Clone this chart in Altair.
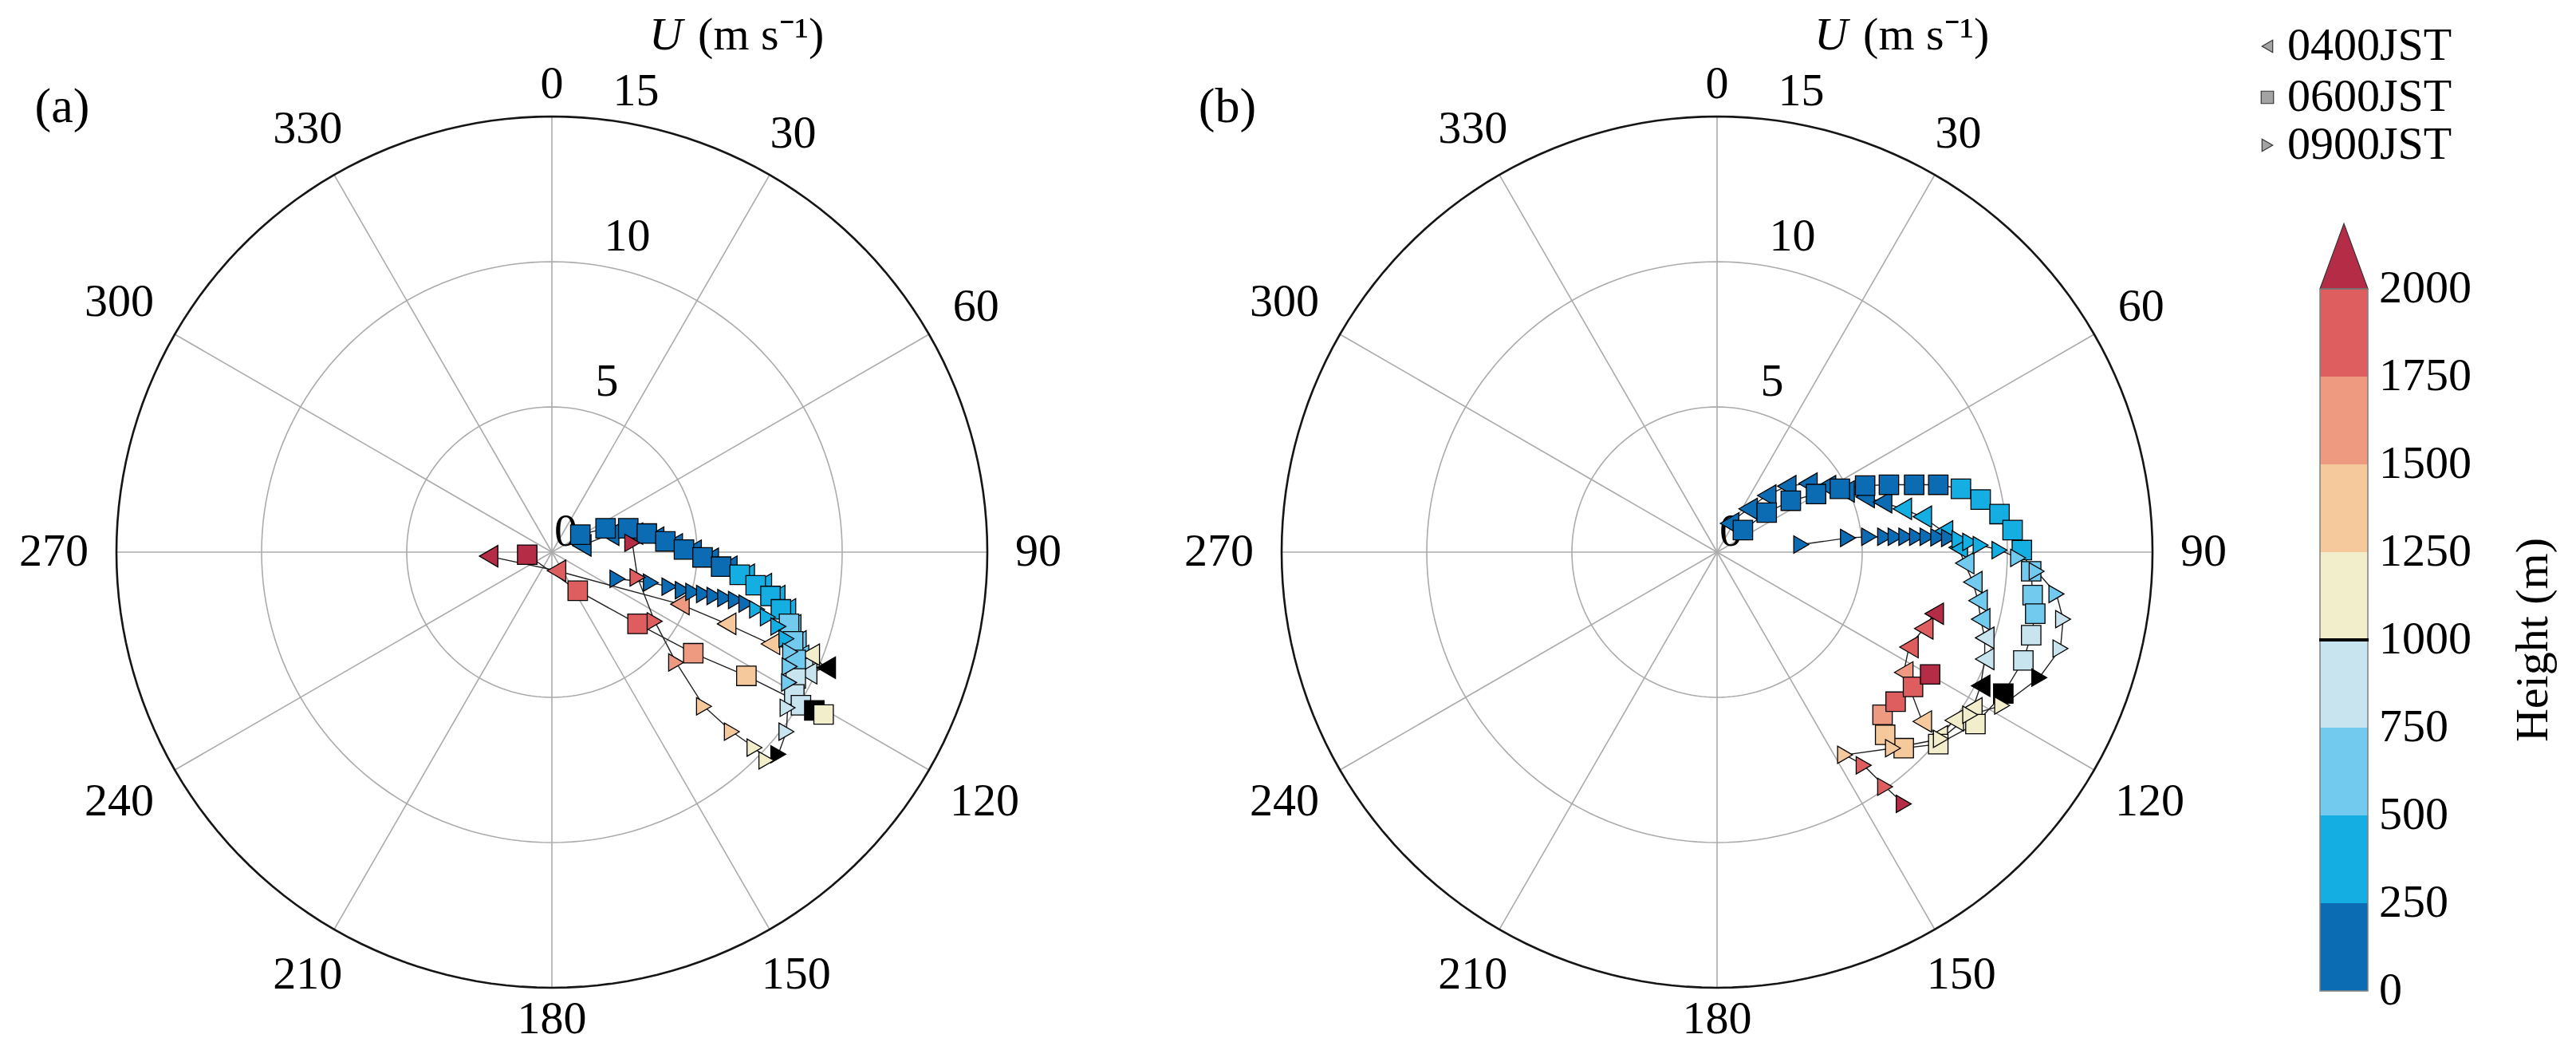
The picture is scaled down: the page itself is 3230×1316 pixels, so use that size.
import altair as alt
import numpy as np
import pandas as pd

SERIES = ["0400JST", "0600JST", "0900JST"]
SHAPES = ["triangle-left", "square", "triangle-right"]

# ---------------- data: hodograph points (u: east, v: north; m/s), height in m ----------------
# panel (a)
a0400_h = [25, 55, 85, 115, 145, 175, 205, 235, 290, 350, 410, 470, 540, 620, 700, 780, 880, 1000, 1100, 1350, 1450, 1600, 1850, 2100]
a0400_u = [1.03, 1.99, 2.81, 3.54, 4.18, 4.83, 5.42, 6.06, 6.66, 7.25, 7.71, 8.08, 8.26, 8.44, 8.53, 8.67, 8.81, 9.45, 8.90, 7.53, 6.02, 4.41, 0.16, -2.18]
a0400_v = [0.23, 0.60, 0.64, 0.50, 0.27, 0.05, -0.23, -0.50, -0.78, -1.10, -1.51, -1.97, -2.52, -3.07, -3.57, -3.89, -4.17, -3.98, -3.53, -3.16, -2.47, -1.79, -0.64, -0.14]

a0600_h = [25, 55, 85, 115, 145, 175, 205, 235, 290, 340, 400, 460, 540, 610, 680, 780, 850, 930, 1000, 1100, 1300, 1600, 1800, 1950, 2100]
a0600_u = [0.98, 1.85, 2.63, 3.27, 3.91, 4.55, 5.19, 5.83, 6.47, 7.02, 7.53, 7.89, 8.17, 8.31, 8.40, 8.40, 8.35, 8.58, 9.04, 9.36, 6.70, 4.87, 2.95, 0.89, -0.85]
a0600_v = [0.60, 0.82, 0.82, 0.64, 0.37, 0.09, -0.18, -0.50, -0.78, -1.14, -1.51, -1.97, -2.47, -3.07, -3.71, -4.35, -4.90, -5.27, -5.45, -5.59, -4.26, -3.48, -2.47, -1.33, -0.09]

a0900_h = [25, 50, 75, 100, 125, 150, 175, 200, 225, 245, 290, 350, 420, 480, 540, 620, 700, 800, 900, 1000, 1050, 1150, 1300, 1400, 1600, 1800, 1900, 2100]
a0900_u = [2.26, 3.41, 4.05, 4.51, 4.87, 5.24, 5.60, 5.97, 6.34, 6.70, 7.07, 7.44, 7.80, 8.08, 8.21, 8.19, 8.17, 8.12, 8.08, 7.80, 7.39, 6.98, 6.20, 5.24, 4.28, 3.54, 2.95, 2.77]
a0900_v = [-0.92, -1.05, -1.19, -1.31, -1.37, -1.44, -1.51, -1.58, -1.65, -1.77, -1.97, -2.24, -2.56, -2.98, -3.43, -3.94, -4.49, -5.36, -6.18, -6.96, -7.17, -6.73, -6.18, -5.31, -3.80, -2.38, -0.87, 0.32]

# panel (b)
b0400_h = [25, 50, 75, 100, 125, 150, 175, 200, 225, 275, 325, 400, 460, 530, 600, 670, 740, 800, 900, 1000, 1080, 1160, 1240, 1350, 1600, 1800, 1900, 2050]
b0400_u = [0.43, 1.07, 1.71, 2.40, 3.13, 3.77, 4.41, 5.10, 5.70, 6.38, 7.07, 7.80, 8.31, 8.53, 8.81, 8.99, 9.08, 9.22, 9.22, 9.08, 8.81, 8.17, 7.62, 7.07, 6.43, 6.61, 7.12, 7.48]
b0400_v = [0.99, 1.49, 1.95, 2.27, 2.36, 2.27, 2.09, 1.90, 1.72, 1.49, 1.22, 0.71, 0.16, -0.38, -1.03, -1.67, -2.31, -2.95, -3.68, -4.60, -5.38, -5.79, -6.34, -5.83, -4.14, -3.27, -2.63, -2.12]

b0600_h = [25, 50, 75, 100, 125, 150, 175, 200, 225, 275, 325, 375, 425, 475, 550, 620, 700, 800, 900, 1000, 1100, 1200, 1300, 1450, 1600, 1800, 1900, 2050]
b0600_u = [0.89, 1.71, 2.54, 3.41, 4.23, 5.10, 5.92, 6.79, 7.62, 8.40, 9.08, 9.73, 10.18, 10.50, 10.82, 10.87, 10.96, 10.82, 10.55, 9.86, 8.90, 7.62, 6.43, 5.79, 5.70, 6.15, 6.75, 7.34]
b0600_v = [0.76, 1.36, 1.77, 2.00, 2.18, 2.29, 2.32, 2.32, 2.32, 2.18, 1.81, 1.31, 0.76, 0.07, -0.66, -1.48, -2.12, -2.86, -3.73, -4.87, -5.92, -6.61, -6.75, -6.29, -5.60, -5.15, -4.64, -4.21]

b0900_h = [25, 50, 75, 100, 125, 150, 175, 200, 225, 245, 275, 325, 375, 450, 550, 650, 720, 800, 900, 1000, 1080, 1150, 1220, 1300, 1450, 1800, 1900, 2050]
b0900_u = [2.90, 4.51, 5.24, 5.79, 6.15, 6.52, 6.89, 7.25, 7.62, 7.99, 8.35, 8.72, 9.08, 9.73, 10.37, 11.01, 11.69, 11.92, 11.83, 11.10, 9.82, 8.72, 7.71, 6.06, 4.41, 5.05, 5.79, 6.43]
b0900_v = [0.26, 0.49, 0.53, 0.53, 0.53, 0.53, 0.53, 0.53, 0.51, 0.49, 0.44, 0.35, 0.24, 0.07, -0.20, -0.66, -1.44, -2.31, -3.32, -4.32, -5.28, -5.60, -6.43, -6.75, -6.98, -7.34, -8.08, -8.67]

# axes / colour bar definitions
ANGLE_TICKS = list(range(0, 360, 30))
RING_VALUES = [5, 10, 15]
RADIAL_LABELS = [0, 5, 10, 15]
BIN_EDGES = [250, 500, 750, 1000, 1250, 1500, 1750, 2000]
BIN_COLORS = ["#0b6cb4", "#15aee3", "#72cbee", "#c7e4ef", "#f2edca", "#f6c99d",
              "#ee9a80", "#de5e60", "#b42c45"]
CB_TICKS = [0, 250, 500, 750, 1000, 1250, 1500, 1750, 2000]


def frame(h, u, v, name):
    return pd.DataFrame({"h": h, "u": u, "v": v, "series": name})


df_a = pd.concat([frame(a0400_h, a0400_u, a0400_v, SERIES[0]),
                  frame(a0600_h, a0600_u, a0600_v, SERIES[1]),
                  frame(a0900_h, a0900_u, a0900_v, SERIES[2])], ignore_index=True)
df_b = pd.concat([frame(b0400_h, b0400_u, b0400_v, SERIES[0]),
                  frame(b0600_h, b0600_u, b0600_v, SERIES[1]),
                  frame(b0900_h, b0900_u, b0900_v, SERIES[2])], ignore_index=True)

# ---------------- layout ----------------
K = 36.4          # px per m/s
H = 1300          # view height
C0 = 684          # polar centre offset inside view (px)
WA, WB, WC = 1455, 1339, 400
SPACING = 6
FONT = "Liberation Serif"
FS = 58
RMAX = 15

ys = alt.Scale(domain=[-(H - C0) / K, C0 / K], nice=False, zero=False)


def xs(width):
    return alt.Scale(domain=[-C0 / K, (width - C0) / K], nice=False, zero=False)


rad = np.radians
ang_line = np.arange(0, 362, 2)
rings = pd.DataFrame([(r, a, r * np.sin(rad(a)), r * np.cos(rad(a)))
                      for r in RING_VALUES for a in ang_line], columns=["r", "a", "u", "v"])
spokes = pd.DataFrame({"a": ANGLE_TICKS})
spokes["u0"] = 0.0
spokes["v0"] = 0.0
spokes["u1"] = RMAX * np.sin(rad(spokes["a"]))
spokes["v1"] = RMAX * np.cos(rad(spokes["a"]))


def label_radius(a, text):
    # distance (px) of the label centre from the pole: ring + pad + half the text box
    s, c = abs(np.sin(rad(a))), abs(np.cos(rad(a)))
    w = len(text) * 0.5 * FS
    hh = 0.68 * FS
    return RMAX * K + 20 + 15 * s + 0.5 * w * s + 0.5 * hh * c


ang_text = [str(a) for a in ANGLE_TICKS]
ang_lab = pd.DataFrame({"t": ang_text,
                        "u": [label_radius(a, t) / K * np.sin(rad(a)) for a, t in zip(ANGLE_TICKS, ang_text)],
                        "v": [label_radius(a, t) / K * np.cos(rad(a)) for a, t in zip(ANGLE_TICKS, ang_text)]})
rad_lab = pd.DataFrame({"t": [str(r) for r in RADIAL_LABELS],
                        "u": [0.08 if r == 0 else 1.2 + 0.06 * r for r in RADIAL_LABELS],
                        "v": [-0.1 if r == 0 else r + 0.05 for r in RADIAL_LABELS]})

cscale = alt.Scale(type="threshold", domain=BIN_EDGES, range=BIN_COLORS)
shape_scale = alt.Scale(domain=SERIES, range=SHAPES)


def panel(df, tag, width):
    xsc = xs(width)

    def X(f):
        return alt.X(f + ":Q", scale=xsc, axis=None)

    def Y(f):
        return alt.Y(f + ":Q", scale=ys, axis=None)

    spoke = alt.Chart(spokes).mark_rule(color="#ababab", strokeWidth=1.6).encode(
        x=X("u0"), y=Y("v0"), x2=alt.X2("u1"), y2=alt.Y2("v1"))
    ring_in = alt.Chart(rings[rings.r < RMAX]).mark_line(color="#ababab", strokeWidth=1.6).encode(
        x=X("u"), y=Y("v"), detail="r:N", order="a:Q")
    ring_out = alt.Chart(rings[rings.r == RMAX]).mark_line(color="#151515", strokeWidth=2.6).encode(
        x=X("u"), y=Y("v"), order="a:Q")
    alab = alt.Chart(ang_lab).mark_text(font=FONT, fontSize=FS, color="black",
                                        align="center", baseline="middle").encode(
        x=X("u"), y=Y("v"), text="t:N")
    rlab = alt.Chart(rad_lab).mark_text(font=FONT, fontSize=FS, color="black",
                                        align="left", baseline="bottom").encode(
        x=X("u"), y=Y("v"), text="t:N")
    lines = alt.Chart(df).mark_line(color="#222222", strokeWidth=1.4).encode(
        x=X("u"), y=Y("v"), detail="series:N", order="h:Q")
    pts = alt.Chart(df).mark_point(filled=True, stroke="black", strokeWidth=1.3, opacity=1,
                                   fillOpacity=1, strokeOpacity=1).encode(
        x=X("u"), y=Y("v"),
        shape=alt.Shape("series:N", scale=shape_scale, legend=None),
        size=alt.Size("series:N", scale=alt.Scale(domain=SERIES, range=[720, 470, 720]), legend=None),
        fill=alt.condition(alt.datum.h == 1000, alt.value("black"),
                           alt.Fill("h:Q", scale=cscale, legend=None)),
    )
    tag_df = pd.DataFrame({"u": [-16.87], "v": [15.33], "t": [f"({tag})"]})
    tag_t = alt.Chart(tag_df).mark_text(font=FONT, fontSize=FS + 4, align="center",
                                        baseline="middle").encode(x=X("u"), y=Y("v"), text="t:N")
    u_df = pd.DataFrame({"u": [3.93], "v": [17.77], "t": ["U"]})
    u_t = alt.Chart(u_df).mark_text(font=FONT, fontSize=FS, fontStyle="italic", align="center",
                                    baseline="middle").encode(x=X("u"), y=Y("v"), text="t:N")
    unit_df = pd.DataFrame({"u": [5.03], "v": [17.77], "t": ["(m s\u207b\u00b9)"]})
    unit_t = alt.Chart(unit_df).mark_text(font=FONT, fontSize=FS, align="left",
                                          baseline="middle").encode(x=X("u"), y=Y("v"), text="t:N")
    return alt.layer(spoke, ring_in, ring_out, alab, rlab, lines, pts, tag_t, u_t, unit_t).properties(
        width=width, height=H)


# ---------------- colour bar + legend panel ----------------
CB_ZERO_PY = 1242     # page y of 0 m
CB_PX_PER_M = 0.44
PAGE_TOP = 8
cb_y = alt.Scale(domain=[(CB_ZERO_PY - PAGE_TOP - H) / CB_PX_PER_M,
                         (CB_ZERO_PY - PAGE_TOP) / CB_PX_PER_M], nice=False, zero=False)
cb_x = alt.Scale(domain=[0, WC], nice=False, zero=False)
BAR_L, BAR_R = 95, 155
EXT = 186


def py_to_m(py):
    return (CB_ZERO_PY - py) / CB_PX_PER_M


cb_df = pd.DataFrame({"lo": [0] + BIN_EDGES[:-1], "hi": BIN_EDGES})
cb_df["mid"] = (cb_df.lo + cb_df.hi) / 2
bar = alt.Chart(cb_df).mark_rect().encode(
    x=alt.value(BAR_L), x2=alt.value(BAR_R),
    y=alt.Y("lo:Q", scale=cb_y, axis=None), y2="hi:Q",
    fill=alt.Fill("mid:Q", scale=cscale, legend=None))
outline = alt.Chart(pd.DataFrame({"lo": [0], "hi": [BIN_EDGES[-1]]})).mark_rect(
    fill=None, stroke="#808080", strokeWidth=1.5).encode(
    x=alt.value(BAR_L), x2=alt.value(BAR_R),
    y=alt.Y("lo:Q", scale=cb_y, axis=None), y2="hi:Q")
ext_df = pd.DataFrame({"ex": [BAR_L, (BAR_L + BAR_R) / 2, BAR_R],
                       "top": [BIN_EDGES[-1], BIN_EDGES[-1] + EXT, BIN_EDGES[-1]],
                       "base": [BIN_EDGES[-1]] * 3})
ext = alt.Chart(ext_df).mark_area(color=BIN_COLORS[-1], stroke="#333333", strokeWidth=1.2).encode(
    x=alt.X("ex:Q", scale=cb_x, axis=None),
    y=alt.Y("top:Q", scale=cb_y, axis=None), y2="base:Q")
blackline = alt.Chart(pd.DataFrame({"h": [1000]})).mark_rule(color="black", strokeWidth=4).encode(
    x=alt.value(BAR_L - 1), x2=alt.value(BAR_R + 1), y=alt.Y("h:Q", scale=cb_y, axis=None))
cb_lab = alt.Chart(pd.DataFrame({"h": CB_TICKS, "t": [str(t) for t in CB_TICKS]})).mark_text(
    font=FONT, fontSize=FS, align="left", baseline="middle").encode(
    x=alt.value(169), y=alt.Y("h:Q", scale=cb_y, axis=None), text="t:N")
cb_title = alt.Chart(pd.DataFrame({"h": [1000], "t": ["Height (m)"]})).mark_text(
    font=FONT, fontSize=FS, align="center", baseline="middle", angle=270).encode(
    x=alt.value(363), y=alt.Y("h:Q", scale=cb_y, axis=None), text="t:N")

leg_df = pd.DataFrame({"series": SERIES, "y": [py_to_m(58), py_to_m(122), py_to_m(182)]})
leg_pts = alt.Chart(leg_df).mark_point(filled=True, fill="#a3a3a3", stroke="#333333", strokeWidth=1.2,
                                       size=240, opacity=1).encode(
    x=alt.value(29), y=alt.Y("y:Q", scale=cb_y, axis=None),
    shape=alt.Shape("series:N", scale=shape_scale, legend=None))
leg_txt = alt.Chart(leg_df).mark_text(font=FONT, fontSize=FS, align="left", baseline="middle").encode(
    x=alt.value(54), y=alt.Y("y:Q", scale=cb_y, axis=None), text="series:N")

cbar = alt.layer(bar, ext, outline, blackline, cb_lab, cb_title, leg_pts, leg_txt).properties(
    width=WC, height=H)

chart = alt.hconcat(panel(df_a, "a", WA), panel(df_b, "b", WB), cbar, spacing=SPACING).properties(
    padding=0, background="white").configure_view(stroke=None)

chart.save("out.html", embed_options={"renderer": "svg", "actions": False})
